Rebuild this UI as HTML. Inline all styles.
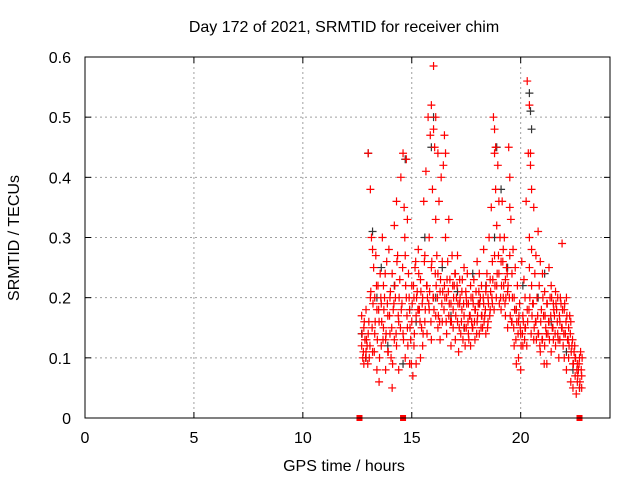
<!DOCTYPE html>
<html><head><meta charset="utf-8"><style>
body{margin:0;background:#fff}
svg{display:block;font-family:"Liberation Sans",sans-serif}
</style></head><body>
<svg id="chart" width="640" height="480" viewBox="0 0 640 480">
<rect width="640" height="480" fill="#fff"/>
<text x="344" y="32" font-size="16" text-anchor="middle">Day 172 of 2021, SRMTID for receiver chim</text>
<text x="344" y="471" font-size="16" text-anchor="middle">GPS time / hours</text>
<text transform="translate(19,238) rotate(-90)" font-size="16" text-anchor="middle">SRMTID / TECUs</text>
<g id="grid"></g>
<g id="ticks"></g>
<g id="black-series"></g>
<g id="red-series"></g>
<g id="markers"></g>
<rect x="85" y="57" width="525" height="361" fill="none" stroke="#000" stroke-width="1"/>
</svg>
<script>
const xTicks=[0,5,10,15,20];
const yTicks=[0,0.1,0.2,0.3,0.4,0.5,0.6];
const yTickLabels=["0","0.1","0.2","0.3","0.4","0.5","0.6"];
// red points as [hour, TECU] pairs, grouped by time range
const red13=[[12.7,0.17],[12.7,0.12],[12.72,0.14],[12.75,0.1],[12.78,0.11],[12.8,0.15],[12.8,0.09],[12.82,0.16],[12.85,0.13],[12.88,0.1],[12.9,0.11],[12.9,0.18],[12.92,0.13],[12.95,0.12],[12.98,0.09],[13.0,0.44],[13.0,0.14],[13.03,0.16],[13.05,0.1],[13.08,0.12],[13.1,0.38],[13.1,0.2],[13.12,0.21],[13.15,0.3],[13.18,0.15],[13.2,0.28],[13.2,0.11],[13.22,0.19],[13.25,0.25],[13.28,0.11],[13.3,0.2],[13.3,0.14],[13.32,0.16],[13.35,0.27],[13.38,0.22],[13.4,0.18],[13.4,0.08],[13.42,0.13],[13.45,0.22],[13.48,0.18]];
const red14=[[13.5,0.16],[13.5,0.06],[13.52,0.1],[13.55,0.24],[13.58,0.2],[13.6,0.19],[13.6,0.12],[13.62,0.16],[13.65,0.3],[13.68,0.13],[13.7,0.22],[13.7,0.15],[13.72,0.18],[13.75,0.2],[13.78,0.24],[13.8,0.13],[13.8,0.08],[13.82,0.14],[13.85,0.26],[13.88,0.19],[13.9,0.17],[13.9,0.11],[13.92,0.11],[13.95,0.28],[13.98,0.17],[14.0,0.2],[14.0,0.14],[14.02,0.21],[14.05,0.1],[14.08,0.15],[14.1,0.24],[14.1,0.05],[14.12,0.09],[14.15,0.18],[14.18,0.19],[14.2,0.13],[14.2,0.32],[14.22,0.22],[14.25,0.2],[14.28,0.14],[14.3,0.36],[14.3,0.12],[14.32,0.26],[14.35,0.27],[14.38,0.17],[14.4,0.16],[14.4,0.08],[14.42,0.2],[14.45,0.23],[14.48,0.15]];
const red15=[[14.5,0.4],[14.52,0.18],[14.55,0.19],[14.58,0.25],[14.6,0.44],[14.6,0.14],[14.62,0.13],[14.65,0.35],[14.68,0.3],[14.7,0.27],[14.7,0.1],[14.72,0.22],[14.75,0.2],[14.75,0.43],[14.78,0.17],[14.8,0.33],[14.8,0.15],[14.82,0.12],[14.85,0.24],[14.88,0.2],[14.9,0.18],[14.9,0.09],[14.92,0.15],[14.95,0.13],[14.98,0.09],[15.0,0.22],[15.0,0.16],[15.02,0.19],[15.05,0.07],[15.08,0.22],[15.1,0.2],[15.1,0.12],[15.12,0.14],[15.15,0.25],[15.18,0.26],[15.2,0.17],[15.2,0.09],[15.22,0.2],[15.25,0.21],[15.28,0.18],[15.3,0.28],[15.3,0.18],[15.32,0.24],[15.35,0.18],[15.38,0.16],[15.4,0.1],[15.4,0.23],[15.42,0.21],[15.45,0.15],[15.48,0.19]];
const red16=[[15.5,0.2],[15.5,0.12],[15.52,0.14],[15.55,0.36],[15.58,0.26],[15.6,0.27],[15.6,0.16],[15.62,0.18],[15.65,0.41],[15.68,0.22],[15.7,0.22],[15.7,0.14],[15.72,0.2],[15.75,0.5],[15.78,0.19],[15.8,0.3],[15.8,0.18],[15.82,0.21],[15.85,0.47],[15.88,0.16],[15.9,0.25],[15.9,0.13],[15.9,0.52],[15.92,0.26],[15.95,0.38],[15.98,0.2],[16.0,0.585],[16.0,0.2],[16.0,0.48],[16.02,0.18],[16.05,0.45],[16.08,0.24],[16.1,0.33],[16.1,0.17],[16.1,0.5],[16.12,0.22],[16.15,0.27],[16.18,0.2],[16.2,0.15],[16.2,0.24],[16.2,0.44],[16.22,0.17],[16.25,0.36],[16.28,0.16],[16.3,0.21],[16.3,0.13],[16.32,0.23],[16.35,0.4],[16.38,0.19],[16.4,0.26],[16.4,0.16],[16.42,0.21],[16.45,0.42],[16.48,0.18]];
const red17=[[16.5,0.47],[16.5,0.22],[16.52,0.2],[16.55,0.3],[16.55,0.44],[16.58,0.16],[16.6,0.2],[16.6,0.14],[16.62,0.23],[16.65,0.26],[16.68,0.21],[16.7,0.33],[16.7,0.17],[16.72,0.19],[16.75,0.23],[16.78,0.16],[16.8,0.19],[16.8,0.12],[16.82,0.16],[16.85,0.27],[16.88,0.22],[16.9,0.18],[16.9,0.15],[16.92,0.2],[16.95,0.22],[16.98,0.24],[17.0,0.24],[17.0,0.13],[17.02,0.17],[17.05,0.2],[17.08,0.22],[17.1,0.16],[17.1,0.27],[17.12,0.19],[17.15,0.11],[17.18,0.15],[17.2,0.19],[17.2,0.23],[17.22,0.2],[17.25,0.14],[17.28,0.16],[17.3,0.18],[17.3,0.21],[17.32,0.23],[17.35,0.13],[17.38,0.19],[17.4,0.25],[17.4,0.17],[17.42,0.15],[17.45,0.12],[17.48,0.21]];
const red18=[[17.5,0.2],[17.5,0.15],[17.52,0.19],[17.55,0.24],[17.58,0.16],[17.6,0.19],[17.6,0.14],[17.62,0.13],[17.65,0.17],[17.68,0.17],[17.7,0.22],[17.7,0.12],[17.72,0.2],[17.75,0.16],[17.78,0.15],[17.8,0.2],[17.8,0.15],[17.82,0.19],[17.85,0.23],[17.88,0.16],[17.9,0.18],[17.9,0.13],[17.92,0.18],[17.95,0.21],[17.98,0.14],[18.0,0.26],[18.0,0.16],[18.02,0.17],[18.05,0.19],[18.08,0.21],[18.1,0.14],[18.1,0.24],[18.12,0.19],[18.15,0.2],[18.18,0.15],[18.2,0.17],[18.2,0.22],[18.22,0.17],[18.25,0.15],[18.28,0.2],[18.3,0.19],[18.3,0.28],[18.32,0.16],[18.35,0.17],[18.38,0.18],[18.4,0.21],[18.4,0.14],[18.42,0.22],[18.45,0.24],[18.48,0.15]];
const red19=[[18.5,0.2],[18.5,0.16],[18.52,0.19],[18.55,0.3],[18.58,0.17],[18.6,0.23],[18.6,0.18],[18.62,0.21],[18.65,0.35],[18.68,0.2],[18.7,0.26],[18.7,0.19],[18.72,0.23],[18.75,0.5],[18.78,0.18],[18.8,0.44],[18.8,0.27],[18.8,0.48],[18.82,0.22],[18.85,0.38],[18.85,0.45],[18.88,0.2],[18.9,0.32],[18.9,0.22],[18.92,0.24],[18.95,0.42],[18.98,0.27],[19.0,0.36],[19.0,0.24],[19.02,0.19],[19.05,0.3],[19.08,0.2],[19.1,0.26],[19.1,0.18],[19.12,0.22],[19.15,0.36],[19.18,0.26],[19.2,0.28],[19.2,0.2],[19.22,0.22],[19.25,0.3],[19.28,0.19],[19.3,0.23],[19.3,0.17],[19.32,0.2],[19.35,0.25],[19.38,0.24],[19.4,0.21],[19.4,0.15],[19.42,0.22],[19.45,0.45],[19.48,0.2]];
const red20=[[19.5,0.35],[19.5,0.27],[19.5,0.4],[19.52,0.17],[19.55,0.33],[19.58,0.16],[19.6,0.24],[19.6,0.16],[19.62,0.2],[19.65,0.28],[19.68,0.15],[19.7,0.2],[19.7,0.12],[19.72,0.18],[19.75,0.25],[19.78,0.13],[19.8,0.18],[19.8,0.09],[19.82,0.16],[19.85,0.22],[19.88,0.14],[19.9,0.16],[19.9,0.1],[19.92,0.17],[19.95,0.19],[19.98,0.15],[20.0,0.14],[20.0,0.08],[20.02,0.12],[20.05,0.26],[20.08,0.14],[20.1,0.17],[20.1,0.12],[20.12,0.16],[20.15,0.23],[20.18,0.13],[20.2,0.15],[20.2,0.2],[20.22,0.15],[20.25,0.36],[20.28,0.12],[20.3,0.18],[20.3,0.56],[20.32,0.16],[20.35,0.44],[20.38,0.18],[20.4,0.25],[20.4,0.3],[20.4,0.52],[20.42,0.2],[20.45,0.42],[20.45,0.44],[20.48,0.14]];
const red21=[[20.5,0.22],[20.5,0.28],[20.5,0.38],[20.52,0.17],[20.55,0.19],[20.58,0.19],[20.6,0.13],[20.6,0.35],[20.62,0.15],[20.65,0.24],[20.68,0.16],[20.7,0.16],[20.7,0.27],[20.72,0.13],[20.75,0.2],[20.78,0.17],[20.8,0.14],[20.8,0.31],[20.82,0.14],[20.85,0.22],[20.88,0.12],[20.9,0.11],[20.9,0.26],[20.92,0.16],[20.95,0.18],[20.98,0.13],[21.0,0.13],[21.0,0.24],[21.02,0.2],[21.05,0.17],[21.08,0.09],[21.1,0.12],[21.1,0.21],[21.12,0.17],[21.15,0.15],[21.18,0.14],[21.2,0.09],[21.2,0.19],[21.22,0.19],[21.25,0.14],[21.28,0.16],[21.3,0.25],[21.3,0.16],[21.32,0.13],[21.35,0.2],[21.38,0.17],[21.4,0.11],[21.4,0.22],[21.42,0.2],[21.45,0.15],[21.48,0.15]];
const red22=[[21.5,0.19],[21.5,0.13],[21.52,0.18],[21.55,0.17],[21.58,0.14],[21.6,0.21],[21.6,0.12],[21.62,0.19],[21.65,0.18],[21.68,0.16],[21.7,0.14],[21.7,0.2],[21.72,0.13],[21.75,0.1],[21.78,0.17],[21.8,0.16],[21.8,0.13],[21.82,0.2],[21.85,0.19],[21.88,0.15],[21.9,0.15],[21.9,0.29],[21.92,0.18],[21.95,0.12],[21.98,0.14],[22.0,0.18],[22.0,0.1],[22.02,0.19],[22.05,0.14],[22.08,0.16],[22.1,0.2],[22.1,0.08],[22.12,0.17],[22.15,0.13],[22.18,0.13],[22.2,0.1],[22.2,0.15],[22.22,0.12],[22.25,0.17],[22.28,0.14],[22.3,0.06],[22.3,0.16],[22.32,0.11],[22.35,0.12],[22.38,0.13],[22.4,0.09],[22.4,0.05],[22.42,0.09],[22.45,0.11],[22.48,0.12],[22.5,0.07],[22.5,0.1],[22.52,0.1],[22.55,0.04],[22.58,0.08],[22.6,0.09],[22.6,0.06],[22.62,0.07],[22.65,0.08],[22.68,0.09],[22.7,0.1],[22.7,0.05],[22.72,0.06],[22.75,0.11],[22.78,0.08],[22.8,0.07],[22.8,0.05],[22.82,0.1]];
const blackX=[12.7,12.9,13.0,13.2,13.4,13.6,13.9,14.2,14.6,14.9,15.2,15.6,15.9,16.1,16.4,16.8,17.1,17.4,17.8,18.1,18.4,18.8,19.1,19.4,19.8,20.1,20.4,20.45,20.5,20.8,21.1,21.4,21.8,22.1,22.4,22.7,14.7,16.0,18.9];
const blackY=[0.14,0.1,0.44,0.31,0.2,0.25,0.12,0.22,0.09,0.18,0.16,0.3,0.45,0.2,0.25,0.17,0.21,0.15,0.24,0.19,0.22,0.3,0.38,0.25,0.18,0.22,0.54,0.51,0.48,0.2,0.24,0.16,0.13,0.11,0.08,0.05,0.43,0.5,0.45];
const gapX=[12.6,14.6,22.7];
const NS="http://www.w3.org/2000/svg";
const X0=85,X1=610,XMAX=24.1,Y0=418,Y1=57,YMAX=0.6;
function sx(v){return X0+v/XMAX*(X1-X0);}
function sy(v){return Y0-v/YMAX*(Y0-Y1);}
function mk(tag,attrs,parent){const e=document.createElementNS(NS,tag);for(const k in attrs)e.setAttribute(k,attrs[k]);parent.appendChild(e);return e;}
const grid=document.getElementById('grid'),ticks=document.getElementById('ticks');
xTicks.forEach(t=>{const x=sx(t);
 if(t>0){const g=mk('line',{x1:x,x2:x,y1:Y1,y2:Y0,stroke:'#a0a0a0','stroke-dasharray':'2,3'},grid);
 
 }
 mk('line',{x1:x,x2:x,y1:Y0,y2:Y0-6,stroke:'#000'},ticks);
 mk('line',{x1:x,x2:x,y1:Y1,y2:Y1+6,stroke:'#000'},ticks);
 const l=mk('text',{x:x,y:Y0+25,'font-size':16,'text-anchor':'middle'},ticks);l.textContent=t;
 
 });
yTicks.forEach((t,i)=>{const y=sy(t);
 if(t>0&&t<YMAX){const g=mk('line',{x1:X0,x2:X1,y1:y,y2:y,stroke:'#a0a0a0','stroke-dasharray':'2,3'},grid);
 
 }
 mk('line',{x1:X0,x2:X0+6,y1:y,y2:y,stroke:'#000'},ticks);
 mk('line',{x1:X1,x2:X1-6,y1:y,y2:y,stroke:'#000'},ticks);
 const l=mk('text',{x:X0-14,y:y+6,'font-size':16,'text-anchor':'end'},ticks);l.textContent=yTickLabels[i];
 
 });
function plus(g,x,y,c,name){const p=mk('path',{d:`M${x-4},${y}h8M${x},${y-4}v8`,stroke:c,'stroke-width':1.2,fill:'none'},g);
 
 }
const bg=document.getElementById('black-series');
blackX.forEach((v,i)=>plus(bg,sx(v),sy(blackY[i]),'#333','black-point'));
const rg=document.getElementById('red-series');
[red13,red14,red15,red16,red17,red18,red19,red20,red21,red22].forEach(seg=>seg.forEach(p=>plus(rg,sx(p[0]),sy(p[1]),'#ff0000','red-point')));
const mg=document.getElementById('markers');
gapX.forEach(v=>{const r=mk('rect',{x:sx(v)-3,y:Y0-3,width:6,height:6,fill:'#ff0000'},mg);
 
 });
</script>
</body></html>
